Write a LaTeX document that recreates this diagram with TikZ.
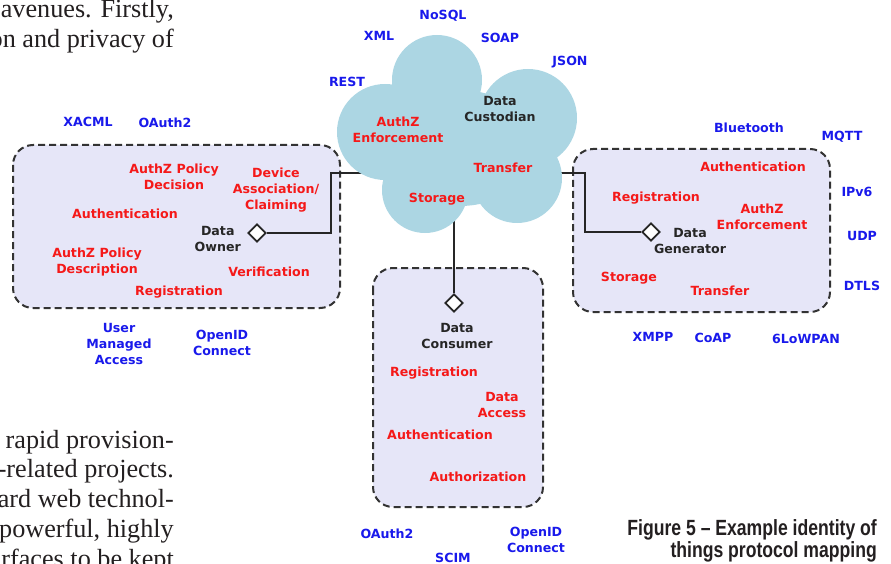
\documentclass[tikz,border=0pt]{standalone}
\usepackage{fontspec}
\setmainfont{Liberation Serif}
\newfontfamily\dv{DejaVu Sans}
\newfontfamily\capfont[FakeStretch=0.8]{Liberation Sans}
\usetikzlibrary{shapes.geometric}

\definecolor{boxfill}{RGB}{230,230,248}
\definecolor{cloudblue}{RGB}{172,214,227}
\definecolor{fnred}{RGB}{245,25,25}
\definecolor{protblue}{RGB}{25,25,235}
\definecolor{ink}{RGB}{35,31,32}

\begin{document}
\begin{tikzpicture}[x=1pt,y=-1pt,
  fn/.style={text=fnred, font=\dv\bfseries\fontsize{12.6}{16}\selectfont, align=center, inner sep=0pt},
  prot/.style={fn, text=protblue},
  role/.style={fn, text=black!85},
  grp/.style={draw=black!80, line width=2pt, dash pattern=on 7pt off 4pt, fill=boxfill, rounded corners=20pt},
  link/.style={draw=black!85, line width=2pt},
  dia/.style={diamond, draw=black!85, line width=1.8pt, fill=white, minimum size=18pt, inner sep=0pt},
  page/.style={text=ink, font=\fontsize{26.2}{30}\selectfont, anchor=base east, inner sep=0pt},
  figcap/.style={text=ink, font=\capfont\bfseries\fontsize{22}{22}\selectfont, anchor=base east, inner sep=0pt}]

\useasboundingbox (0,0) rectangle (891,564);
\clip (0,0) rectangle (891,564);

\draw[grp] (13,145) rectangle (340,308);
\draw[grp] (573,149) rectangle (830,312);
\draw[grp] (373,268) rectangle (543,507);

\node[dia] (own) at (257,233) {};
\node[dia] (gen) at (651,232) {};
\node[dia] (con) at (454,303) {};

\coordinate (ownbend) at (331,173);
\coordinate (genbend) at (585,173);
\coordinate (custW) at (400,173);
\coordinate (custE) at (545,173);
\coordinate (custS) at (454,200);

\draw[link] (own.east) -| (ownbend) -- (custW);
\draw[link] (gen.west) -| (genbend) -- (custE);
\draw[link] (con.north) -- (custS);

\fill[cloudblue] (437,80) circle (45pt) (528,118) circle (49pt)
  (385,132) circle (48pt) (425,190) circle (43pt) (517,178) circle (45pt)
  (460,148) ellipse (75pt and 58pt);

\node[role] (cust) at (500,109) {Data\\Custodian};
\node[fn] (cenf) at (398,130) {AuthZ\\Enforcement};
\node[fn] (ctra) at (503,168) {Transfer};
\node[fn] (csto) at (437,199) {Storage};

\node[prot] (nosql) at (443,16) {NoSQL};
\node[prot] (xml) at (379,36) {XML};
\node[prot] (soap) at (500,38) {SOAP};
\node[prot] (json) at (570,62) {JSON};
\node[prot] (rest) at (347,82) {REST};

\node[prot] (xacml) at (88,122) {XACML};
\node[prot] (oauthL) at (165,123) {OAuth2};
\node[fn] (opdp) at (174,177) {AuthZ Policy\\Decision};
\node[fn] (odev) at (276,190) {Device\\Association/\\Claiming};
\node[fn] (oath) at (125,214) {Authentication};
\node[role,anchor=east] (ownl) at (241,239) {Data\\Owner};
\node[fn] (opol) at (97,262) {AuthZ Policy\\Description};
\node[fn] (over) at (269,272) {Verification};
\node[fn] (oreg) at (179,292) {Registration};
\node[prot] (uma) at (119,344) {User\\Managed\\Access};
\node[prot] (oidL) at (222,343) {OpenID\\Connect};

\node[prot] (bt) at (749,128) {Bluetooth};
\node[prot] (mqtt) at (842,137) {MQTT};
\node[fn] (gath) at (753,167) {Authentication};
\node[fn] (greg) at (656,198) {Registration};
\node[fn] (genf) at (762,217) {AuthZ\\Enforcement};
\node[prot] (ipv6) at (857,192) {IPv6};
\node[prot] (udp) at (862,236) {UDP};
\node[prot] (dtls) at (862,286) {DTLS};
\node[role] (genl) at (690,241) {Data\\Generator};
\node[fn] (gsto) at (629,278) {Storage};
\node[fn] (gtra) at (720,291) {Transfer};
\node[prot] (xmpp) at (653,337) {XMPP};
\node[prot] (coap) at (713,338) {CoAP};
\node[prot] (lowpan) at (806,339) {6LoWPAN};

\node[role] (conl) at (457,336) {Data\\Consumer};
\node[fn] (creg) at (434,373) {Registration};
\node[fn] (cacc) at (502,405) {Data\\Access};
\node[fn] (cath) at (440,435) {Authentication};
\node[fn] (caut) at (478,477) {Authorization};
\node[prot] (oauthB) at (387,534) {OAuth2};
\node[prot] (oidB) at (536,540) {OpenID\\Connect};
\node[prot] (scim) at (453,558) {SCIM};

\node[page] (t1) at (174,18) {avenues. Firstly,};
\node[page] (t2) at (174,48) {on and privacy of};
\node[page] (t3) at (174,448) {rapid provision-};
\node[page] (t4) at (174,477) {-related projects.};
\node[page] (t5) at (174,507) {ard web technol-};
\node[page] (t6) at (174,537) {powerful, highly};
\node[page] (t7) at (174,567) {rfaces to be kept};

\node[figcap] (cap1) at (877,535) {Figure 5 – Example identity of};
\node[figcap] (cap2) at (877,557) {things protocol mapping};

\end{tikzpicture}
\end{document}
